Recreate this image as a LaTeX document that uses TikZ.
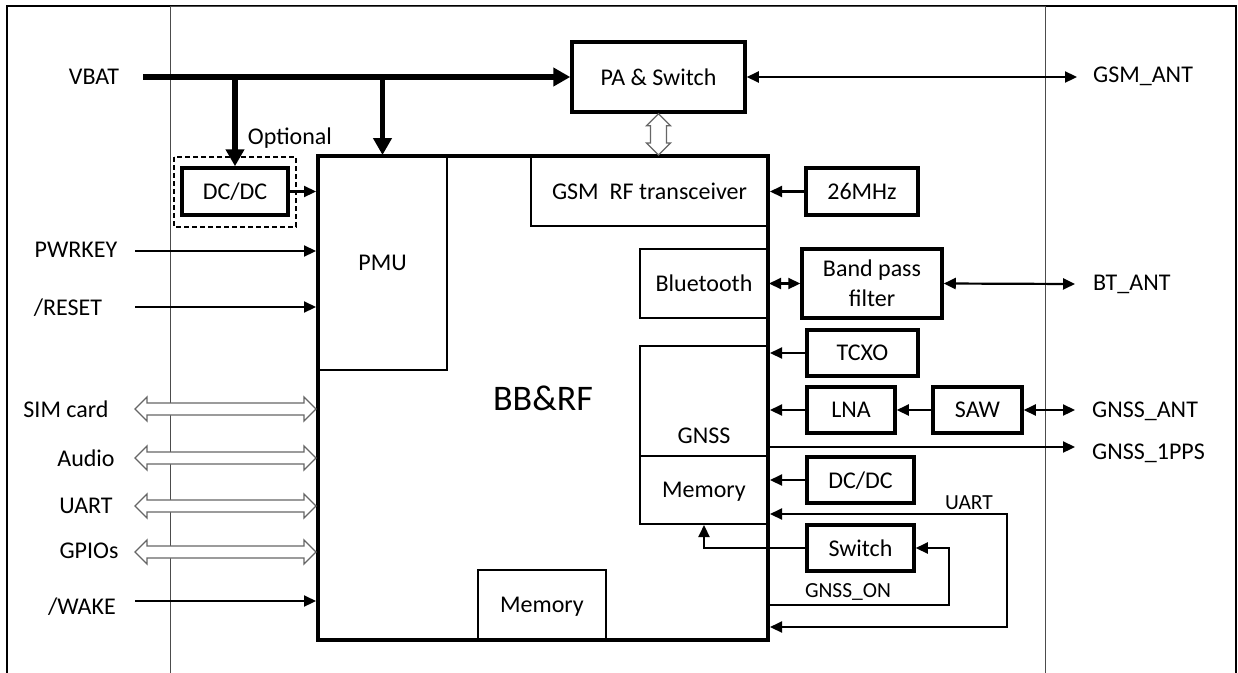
\documentclass[tikz,border=0pt]{standalone}
\usepackage{fontspec}
\setmainfont{Carlito}
\usetikzlibrary{positioning}
\usetikzlibrary{calc}
\usetikzlibrary{arrows.meta}

\newcommand\labelsize{\fontsize{24}{30}\selectfont}
\newcommand\tagsize{\fontsize{21.5}{24}\selectfont}
\newcommand\titlesize{\fontsize{36}{40}\selectfont}

\begin{document}
\begin{tikzpicture}[x=1pt, y=-1pt]
    \colorlet{divider}{black!70}
\colorlet{bus}{black!60}

\newcommand\buslen{12pt}
\newcommand\buswide{12pt}
\newcommand\busshaft{6pt}

\newcommand\busarrow[2]{
    \draw[bus arrow] let \p1 = (#1), \p2 = (#2) in
        (\x1, \y1)
        -- (\x1 + \buslen, \y1 + \buswide) -- (\x1 + \buslen, \y1 + \busshaft)
        -- (\x2 - \buslen, \y1 + \busshaft) -- (\x2 - \buslen, \y1 + \buswide)
        -- (\x2, \y1)
        -- (\x2 - \buslen, \y1 - \buswide) -- (\x2 - \buslen, \y1 - \busshaft)
        -- (\x1 + \buslen, \y1 - \busshaft) -- (\x1 + \buslen, \y1 - \buswide)
        -- cycle;
}

\tikzset{
    heavy box/.style={
        draw, rectangle, line width=3.5pt,
        inner sep=0pt, font=\labelsize, text depth=0pt,
    },
    light box/.style={
        draw, rectangle, line width=2pt,
        inner sep=0pt, font=\labelsize, text depth=0pt,
    },
    port label/.style={inner sep=0pt, font=\labelsize, text depth=0pt},
    small label/.style={port label, font=\tagsize},
    signal/.style={line width=2.2pt, -{Triangle[length=12pt, width=11pt]}},
    duplex/.style={
        line width=2.2pt,
        {Triangle[length=12pt, width=11pt]}-{Triangle[length=12pt, width=11pt]},
    },
    supply/.style={line width=5.5pt, -{Triangle[length=17pt, width=18pt]}},
    bus arrow/.style={draw=bus, fill=white, line width=1.3pt},
    option frame/.style={draw, line width=1.3pt, dash pattern=on 5pt off 3pt},
}

\useasboundingbox (0, 0) rectangle (1238, 672);
\draw[line width=2pt] (7, 6) rectangle (1236, 700);
\draw[divider, line width=1pt] (170, 6) rectangle (1045, 700);

% module
\node[heavy box, line width=4pt, minimum width=450, minimum height=484,
      font=\titlesize] at (543, 398) (bb) {BB\&RF};
\node[light box, minimum width=129, minimum height=214] at (382.5, 263) (pmu) {PMU};
\node[light box, minimum width=237, minimum height=70] at (649.5, 191) (gsm-rf)
    {GSM\ \ RF transceiver};
\node[light box, minimum width=128, minimum height=69] at (704, 283.5) (bt) {Bluetooth};
\node[light box, minimum width=128, minimum height=110,
      label={[port label, anchor=south, yshift=13pt]south:GNSS}] at (704, 401) (gnss) {};
\node[light box, minimum width=128, minimum height=68] at (704, 490) (gnss-mem) {Memory};
\node[light box, minimum width=128, minimum height=70] at (542, 605) (bb-mem) {Memory};

\node[heavy box, minimum width=173, minimum height=70] at (658.5, 77) (pa) {PA \& Switch};
\node[heavy box, minimum width=106, minimum height=47] at (235, 191.5) (dc-dc) {DC/DC};
\draw[option frame] (174, 157) rectangle (296, 227);
\node[port label] at (290, 136) (lbl-optional) {Optional};

\node[heavy box, minimum width=112, minimum height=47] at (862, 191.5) (osc) {26MHz};
\node[heavy box, minimum width=140, minimum height=69, align=center] at (872, 283.5) (bpf)
    {Band pass\\filter};
\node[heavy box, minimum width=111, minimum height=46] at (862.5, 353) (tcxo) {TCXO};
\node[heavy box, minimum width=88, minimum height=46] at (851, 410) (lna) {LNA};
\node[heavy box, minimum width=89, minimum height=46] at (977.5, 410) (saw) {SAW};
\node[heavy box, minimum width=107, minimum height=46] at (860.5, 480) (dc-dc-gnss) {DC/DC};
\node[heavy box, minimum width=107, minimum height=46] at (860.5, 548) (switch) {Switch};

% supply
\node[port label] at (94, 77) (lbl-vbat) {VBAT};
\coordinate (vbat-in) at (143, 77);
\draw[supply] (vbat-in) -- (pa.west);
\draw[supply] (vbat-in -| dc-dc.north) -- (dc-dc.north);
\draw[supply] (vbat-in -| pmu.north) -- (pmu.north);
\draw[signal] (dc-dc.east) -- (dc-dc.east -| bb.west);

\draw[bus arrow] let \p1 = (pa.south), \p2 = (pa.south |- gsm-rf.north) in
    (\x1, \y1) -- (\x1 + 12pt, \y1 - 12pt) -- (\x1 + 8pt, \y1 - 12pt)
    -- (\x1 + 8pt, \y2 + 12pt) -- (\x1 + 12pt, \y2 + 12pt) -- (\x1, \y2)
    -- (\x1 - 12pt, \y2 + 12pt) -- (\x1 - 8pt, \y2 + 12pt)
    -- (\x1 - 8pt, \y1 - 12pt) -- (\x1 - 12pt, \y1 - 12pt) -- cycle;

% left side
\node[port label] at (76, 250) (lbl-pwrkey) {PWRKEY};
\coordinate (in-pwrkey) at (135, 251);
\draw[signal] (in-pwrkey) -- (in-pwrkey -| bb.west);

\node[port label] at (68, 307) (lbl-reset) {/RESET};
\coordinate (in-reset) at (135, 307);
\draw[signal] (in-reset) -- (in-reset -| bb.west);

\node[port label] at (66, 409) (lbl-sim) {SIM card};
\coordinate (in-sim) at (135, 409);
\busarrow{in-sim}{in-sim -| bb.west}

\node[port label] at (86, 458) (lbl-audio) {Audio};
\coordinate (in-audio) at (135, 458);
\busarrow{in-audio}{in-audio -| bb.west}

\node[port label] at (86, 506) (lbl-uart) {UART};
\coordinate (in-uart) at (135, 506);
\busarrow{in-uart}{in-uart -| bb.west}

\node[port label] at (89, 551) (lbl-gpio) {GPIOs};
\coordinate (in-gpio) at (135, 552);
\busarrow{in-gpio}{in-gpio -| bb.west}

\node[port label] at (82, 606) (lbl-wake) {/WAKE};
\coordinate (in-wake) at (135, 601);
\draw[signal] (in-wake) -- (in-wake -| bb.west);

% right side
\coordinate (ant-gsm) at (1077, 77);
\draw[duplex] (pa.east) -- (ant-gsm);
\node[port label, anchor=west] at (1093, 75) (lbl-gsm-ant) {GSM\_ANT};

\draw[signal] (osc.west) -- (osc.west -| bb.east);
\draw[duplex] (bt.east) -- (bpf.west);
\coordinate (ant-bt) at (1075, 284);
\draw[duplex] (bpf.east) -- (ant-bt);
\node[port label, anchor=west] at (1093, 283) (lbl-bt-ant) {BT\_ANT};

\draw[signal] (tcxo.west) -- (tcxo.west -| bb.east);
\draw[signal] (lna.west) -- (lna.west -| bb.east);
\draw[signal] (saw.west) -- (lna.east);
\coordinate (ant-gnss) at (1075, 410);
\draw[duplex] (saw.east) -- (ant-gnss);
\node[port label, anchor=west] at (1092, 410) (lbl-gnss-ant) {GNSS\_ANT};

\coordinate (pps-out) at (1075, 447);
\draw[signal] (pps-out -| bb.east) -- (pps-out);
\node[port label, anchor=west] at (1092, 452) (lbl-pps) {GNSS\_1PPS};

\draw[signal] (dc-dc-gnss.west) -- (dc-dc-gnss.west -| bb.east);

\coordinate (uart-top) at (1007, 514);
\coordinate (uart-bottom) at (1007, 627);
\draw[duplex] (bb.east |- uart-top) -- (uart-top) -- (uart-bottom) -- (bb.east |- uart-bottom);
\node[small label] at (969, 503) (lbl-uart-gnss) {UART};

\draw[signal] (switch.west) -| (gnss-mem.south);
\coordinate (on-turn) at (949, 605);
\draw[signal] (bb.east |- on-turn) -- (on-turn) |- (switch.east);
\node[small label] at (848, 591) (lbl-gnss-on) {GNSS\_ON};
\end{tikzpicture}
\end{document}
